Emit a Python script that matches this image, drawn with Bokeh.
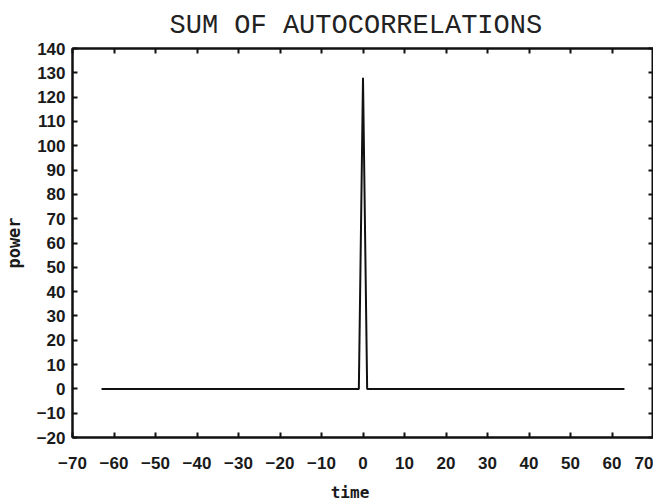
from bokeh.plotting import figure
from bokeh.models import LinearAxis, Range1d, FixedTicker, CustomJSTickFormatter, Div
from bokeh.layouts import column
from bokeh.embed import file_html
from bokeh.resources import INLINE

# Data
lags = list(range(-63, 64))
power = [128 if t == 0 else 0 for t in lags]

x_ticks = list(range(-70, 71, 10))
y_ticks = list(range(-20, 141, 10))

def lab(v):
    return ("\u2212" + str(-v)) if v < 0 else str(v)

p = figure(width=653, height=471, output_backend="svg", toolbar_location=None,
           x_range=Range1d(-70, 70), y_range=Range1d(-20, 140),
           min_border_left=61, min_border_right=0, min_border_top=0, min_border_bottom=0,
           title="SUM OF AUTOCORRELATIONS")

p.title.text_font = "Liberation Mono"
p.title.text_font_size = "27px"
p.title.text_font_style = "normal"
p.title.align = "left"
p.title.offset = 97
p.title.text_color = "#222222"
p.title.standoff = 16

p.xgrid.visible = False
p.ygrid.visible = False
p.outline_line_color = "#111111"
p.outline_line_width = 2
p.background_fill_color = "white"
p.border_fill_color = "white"

for ax in (p.xaxis[0], p.yaxis[0]):
    ax.major_tick_in = 5
    ax.major_tick_out = 0
    ax.minor_tick_line_color = None
    ax.axis_line_width = 2
    ax.axis_line_color = "#111111"
    ax.major_tick_line_width = 2
    ax.major_tick_line_color = "#111111"
    ax.major_label_text_font = "Liberation Sans"
    ax.major_label_text_font_style = "bold"
    ax.major_label_text_font_size = "17px"
    ax.major_label_text_color = "#1a1a1a"
    ax.axis_label_text_font = "DejaVu Sans Mono"
    ax.axis_label_text_font_style = "bold"
    ax.axis_label_text_font_size = "17px"
    ax.axis_label_text_color = "#1a1a1a"

p.xaxis[0].ticker = FixedTicker(ticks=x_ticks)
p.yaxis[0].ticker = FixedTicker(ticks=y_ticks)
p.xaxis[0].major_label_overrides = {v: lab(v) for v in x_ticks}
p.yaxis[0].major_label_overrides = {v: lab(v) for v in y_ticks}
p.yaxis[0].axis_label = "power"
p.xaxis[0].major_label_standoff = 19
p.yaxis[0].major_label_standoff = 7
p.yaxis[0].axis_label_standoff = 10

blank = CustomJSTickFormatter(code="return ''")
top = LinearAxis(ticker=FixedTicker(ticks=x_ticks), formatter=blank)
right = LinearAxis(ticker=FixedTicker(ticks=y_ticks), formatter=blank)
for ax in (top, right):
    ax.major_tick_in = 5
    ax.major_tick_out = 0
    ax.minor_tick_line_color = None
    ax.axis_line_width = 2
    ax.axis_line_color = "#111111"
    ax.major_tick_line_width = 2
    ax.major_tick_line_color = "#111111"
    ax.major_label_text_font_size = "0px"
    ax.major_label_standoff = 0
p.add_layout(top, "above")
p.add_layout(right, "right")

p.line(lags, power, line_color="#111111", line_width=2)

# x-axis title, set just below the figure
xlabel = Div(text='<div style="position:relative; top:7px; margin-left:37px; width:616px; '
                  'text-align:center; font-family:\'DejaVu Sans Mono\'; font-weight:bold; '
                  'font-size:16px; line-height:19px; color:#1a1a1a;">time</div>',
             width=653, height=14, styles={"overflow": "visible"})

layout = column(p, xlabel, spacing=0)

open("out.html", "w").write(file_html(layout, INLINE))
